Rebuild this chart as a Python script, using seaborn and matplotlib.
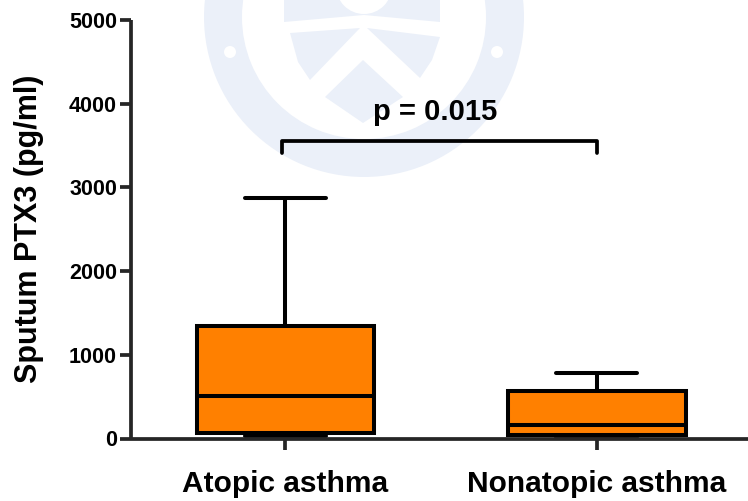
"""Sputum PTX3 box plot, atopic vs nonatopic asthma."""

import matplotlib.pyplot as plt
import pandas as pd
import seaborn as sns
from matplotlib.patches import Circle, Polygon, Wedge

GROUPS = ['Atopic asthma', 'Nonatopic asthma']
# low whisker, q1, median, q3, high whisker
ATOPIC = [30, 70, 505, 1340, 2875]
NONATOPIC = [10, 40, 160, 565, 780]
Y_TICKS = [0, 1000, 2000, 3000, 4000, 5000]
P_TEXT = 'p = 0.015'
BRACKET_TOP = 3555
BRACKET_FOOT = 3410

ORANGE = '#ff8000'
CREST = '#ebf0f9'

if __name__ == '__main__':
    df = pd.DataFrame({
        'group': [GROUPS[0]] * len(ATOPIC) + [GROUPS[1]] * len(NONATOPIC),
        'ptx3': ATOPIC + NONATOPIC,
    })

    sns.set_style('ticks')
    plt.rcParams['font.family'] = ['Liberation Sans', 'DejaVu Sans']
    plt.rcParams['font.weight'] = 'bold'
    plt.rcParams['text.color'] = 'black'
    plt.rcParams['axes.labelcolor'] = 'black'
    plt.rcParams['xtick.labelcolor'] = 'black'
    plt.rcParams['ytick.labelcolor'] = 'black'

    W, H = 748, 501
    fig = plt.figure(figsize=(W / 100, H / 100), dpi=100)

    # faint crest behind the plot, in pixel coordinates
    bg = fig.add_axes([0, 0, 1, 1], zorder=0)
    bg.set_xlim(0, W)
    bg.set_ylim(H, 0)
    bg.axis('off')
    bg.add_patch(Wedge((364, 17), 160, 0, 360, width=38, fc=CREST, ec='none'))
    bg.add_patch(Circle((230, 52), 6, fc='white', ec='none'))
    bg.add_patch(Circle((497, 52), 6, fc='white', ec='none'))
    bg.add_patch(Polygon([(284, 0), (440, 0), (440, 22), (364, 15), (284, 22)], fc=CREST, ec='none'))
    bg.add_patch(Circle((364, -14), 28, fc='white', ec='none'))
    bg.add_patch(Polygon([(290, 33), (360, 28), (310, 80), (298, 62)], fc=CREST, ec='none'))
    bg.add_patch(Polygon([(440, 37), (367, 28), (420, 78), (432, 60)], fc=CREST, ec='none'))
    bg.add_patch(Polygon([(363, 60), (403, 97), (363, 123), (325, 97)], fc=CREST, ec='none'))

    ax = fig.add_axes([131 / W, 1 - 438.5 / H, (W - 131) / W, 418.5 / H], zorder=1)
    ax.patch.set_alpha(0)

    sns.boxplot(data=df, x='group', y='ptx3', order=GROUPS, color=ORANGE, saturation=1,
                width=0.57, whis=(0, 100), linecolor='black', linewidth=2.9,
                capwidths=0.26, ax=ax)

    # p value bracket
    ax.plot([-0.01, -0.01, 1, 1], [BRACKET_FOOT, BRACKET_TOP, BRACKET_TOP, BRACKET_FOOT],
            color='black', lw=2.7, solid_joinstyle='round', clip_on=False)
    ax.text(0.48, BRACKET_TOP + 180, P_TEXT, ha='center', va='bottom', fontsize=21,
            fontweight='bold')

    ax.set_xlim(-0.496, 1.485)
    ax.set_ylim(0, 5000)
    ax.set_yticks(Y_TICKS)
    ax.set_xlabel('')
    ax.set_ylabel('Sputum PTX3 (pg/ml)', fontsize=22, fontweight='bold', labelpad=18)
    ax.tick_params(axis='y', length=8, width=2.7, labelsize=15.5, pad=2)
    ax.tick_params(axis='x', length=8, width=2.7, labelsize=21.5, pad=15)

    sns.despine(ax=ax)
    for side in ['left', 'bottom']:
        ax.spines[side].set_linewidth(2.7)
        ax.spines[side].set_capstyle('butt')

    fig.savefig('out.png', dpi=100)
